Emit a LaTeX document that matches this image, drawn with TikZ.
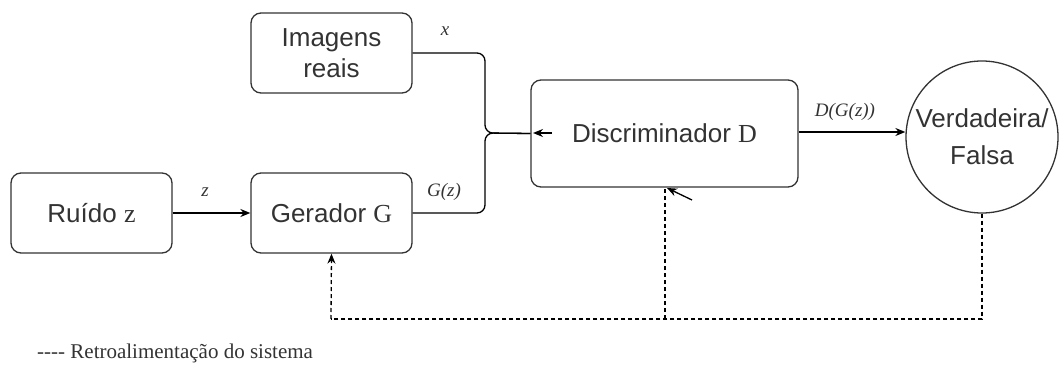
\documentclass[tikz,border=0pt]{standalone}
\usepackage{fontspec}
\setmainfont{Liberation Serif}
\newfontfamily\sansf{Liberation Sans}
\usetikzlibrary{arrows.meta}
\definecolor{txt}{HTML}{333333}
\begin{document}
\begin{tikzpicture}[x=1pt,y=-1pt,
  box/.style={draw=txt, line width=1.3pt, rounded corners=10pt, minimum width=161pt, minimum height=80pt, inner sep=0pt, align=center, text=txt, font=\sansf\fontsize{26}{31}\selectfont},
  conn/.style={draw=black, line width=1.3pt},
  tip/.style={-{Stealth[length=10pt,width=8pt]}},
  lbl/.style={text=txt, inner sep=0pt, font=\itshape\fontsize{19}{22}\selectfont},
  fb/.style={draw=black, line width=1.3pt, dash pattern=on 4pt off 3pt}]
\useasboundingbox (0,0) rectangle (1059,371);
% boxes
\node[box] (img) at (331.5,53) {Imagens\\reais};
\node[box] (ruido) at (91.5,213) {Ruído {\rmfamily z}};
\node[box] (gen) at (331.5,213) {Gerador {\rmfamily G}};
\node[box, minimum width=267pt, minimum height=107pt] (disc) at (664.5,133.5) {Discriminador {\rmfamily D}};
\node[draw=txt, circle, line width=1.3pt, minimum size=152pt, inner sep=0pt, align=center, text=txt, font=\sansf\fontsize{26}{37}\selectfont] (circ) at (982,137) {Verdadeira/\\Falsa};
% junction points
\coordinate (j) at (485,133);
\coordinate (jt) at (485,53);
\coordinate (jb) at (485,213);
\coordinate (din) at (552,133);
\coordinate (dtip) at (533,133);
% connectors
\draw[conn, tip] (ruido) -- (gen);
\draw[conn, rounded corners=8pt] (img.east) -- (jt) -- (j) -- (disc.west);
\draw[conn, rounded corners=8pt] (gen.east) -- (jb) -- (j) -- (disc.west);
\draw[conn, tip] (din) -- (dtip);
\draw[conn, tip] (disc.east |- 0,132) -- (circ.west |- 0,132);
% feedback
\coordinate (fr) at (circ.south |- 0,319);
\coordinate (fm) at (665,319);
\coordinate (fl) at (331,319);
\coordinate (ftip) at (667,188);
\coordinate (fstart) at (692,200);
\draw[fb] (circ.south) -- (fr) -- (fl);
\draw[fb, tip] (fl) -- (gen.south);
\draw[fb] (fm) -- (fm |- disc.south);
\draw[conn, tip] (fstart) -- (ftip);
% labels
\node[lbl] (lx) at (445,31) {x};
\node[lbl] (lz) at (205,192) {z};
\node[lbl] (lgz) at (444,192) {G(z)};
\node[lbl] (ld) at (845,112) {D(G(z))};
\node[anchor=west, text=txt, inner sep=0pt, font=\fontsize{21}{24}\selectfont] (leg) at (37,353) {-{}-{}-{}- Retroalimentação do sistema};
\end{tikzpicture}
\end{document}
